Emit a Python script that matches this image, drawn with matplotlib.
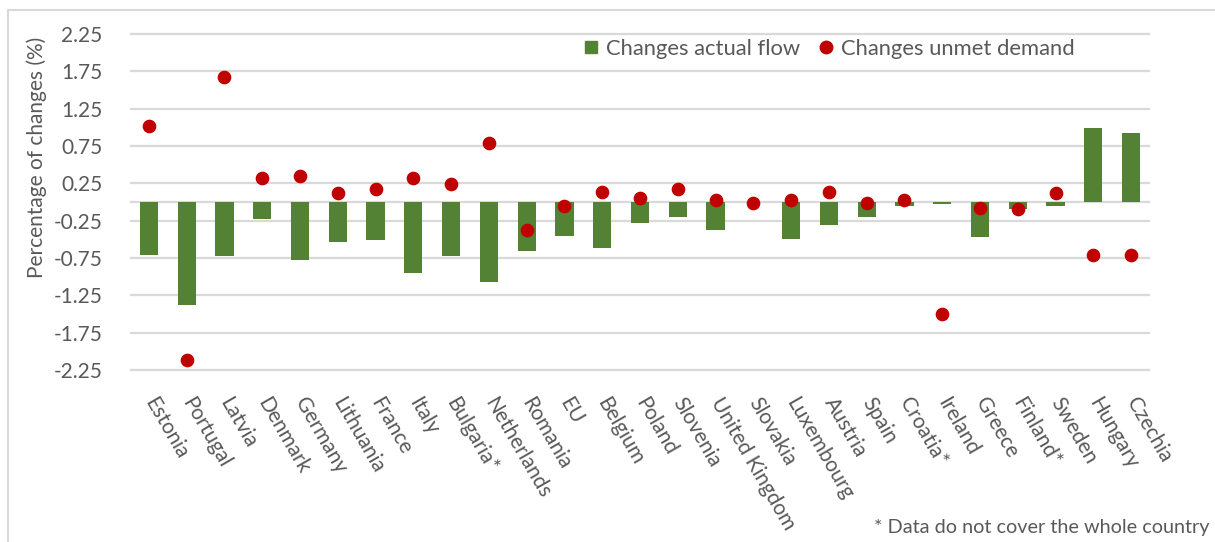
import matplotlib
matplotlib.use('Agg')
import matplotlib.pyplot as plt
from matplotlib.lines import Line2D
from matplotlib.patches import Rectangle
import numpy as np

countries = ['Estonia', 'Portugal', 'Latvia', 'Denmark', 'Germany', 'Lithuania',
             'France', 'Italy', 'Bulgaria*', 'Netherlands', 'Romania', 'EU',
             'Belgium', 'Poland', 'Slovenia', 'United Kingdom', 'Slovakia',
             'Luxembourg', 'Austria', 'Spain', 'Croatia*', 'Ireland', 'Greece',
             'Finland*', 'Sweden', 'Hungary', 'Czechia']
actual_flow = [-0.71, -1.38, -0.72, -0.23, -0.78, -0.54, -0.51, -0.95, -0.72,
               -1.07, -0.66, -0.45, -0.62, -0.28, -0.20, -0.37, 0.0, -0.50,
               -0.31, -0.20, -0.06, -0.03, -0.47, -0.09, -0.05, 0.99, 0.93]
unmet_demand = [1.02, -2.12, 1.67, 0.32, 0.35, 0.12, 0.17, 0.32, 0.24, 0.79,
                -0.37, -0.05, 0.13, 0.06, 0.18, 0.03, -0.02, 0.03, 0.13, -0.02,
                0.03, -1.50, -0.08, -0.10, 0.12, -0.71, -0.71]
yticks = np.arange(-2.25, 2.26, 0.5)

green = '#548235'
red = '#C00000'
grey = '#595959'
grid = '#D9D9D9'
plt.rcParams['font.family'] = ['Lato', 'DejaVu Sans']

W, H = 1215, 542
fig = plt.figure(figsize=(W / 100, H / 100), dpi=100)
# plot area in pixels: x 130..1150, y of 2.25 at 34 and -2.25 at 370
ppu = (370 - 34) / 4.5
top = 34 - 0.05 * ppu
bot = 370 + 0.05 * ppu
ax = fig.add_axes([130 / W, 1 - bot / H, 1020 / W, (bot - top) / H])

x = np.arange(len(countries))
ax.bar(x, actual_flow, width=0.48, color=green, zorder=2, label='Changes actual flow')
ax.scatter(x, unmet_demand, s=78, color=red, zorder=3, label='Changes unmet demand')

ax.set_xlim(-0.5, len(countries) - 0.5)
ax.set_ylim(-2.3, 2.3)
ax.set_yticks(yticks)
ax.set_yticklabels([f'{v:.2f}' for v in yticks], fontsize=15, color=grey)
ax.yaxis.grid(True, color=grid, linewidth=1.6, zorder=0)
ax.axhline(0, color=grid, linewidth=1.6, zorder=1)
ax.tick_params(axis='y', length=0, pad=20)
ax.set_xticks(x)
ax.set_xticklabels(countries, rotation=-60, rotation_mode='anchor',
                   ha='left', va='center', fontsize=15, color=grey)
ax.tick_params(axis='x', length=0, pad=18)
for s in ax.spines.values():
    s.set_visible(False)

fig.text(37 / W, 1 - 157 / H, 'Percentage of changes (%)', rotation=90,
         ha='center', va='center', fontsize=15, color=grey)

handles = [Line2D([], [], marker='s', linestyle='none', markersize=9, color=green),
           Line2D([], [], marker='o', linestyle='none', markersize=9, color=red)]
fig.legend(handles, ['Changes actual flow', 'Changes unmet demand'],
           loc='center left', bbox_to_anchor=(582 / W, 1 - 49 / H), ncol=2,
           frameon=False, fontsize=15.8, labelcolor=grey, handlelength=0.8,
           handletextpad=0.3, columnspacing=0.75, borderpad=0, borderaxespad=0)

fig.text(1209 / W, 1 - 527 / H, '* Data do not cover the whole country',
         ha='right', va='center', fontsize=14.3, color=grey)

fig.patches.append(Rectangle((8 / W, -0.01), 1.0, 1 - 10 / H + 0.01,
                             transform=fig.transFigure, fill=False,
                             edgecolor='#D9D9D9', linewidth=1.5))

fig.savefig('out.png', dpi=100)
